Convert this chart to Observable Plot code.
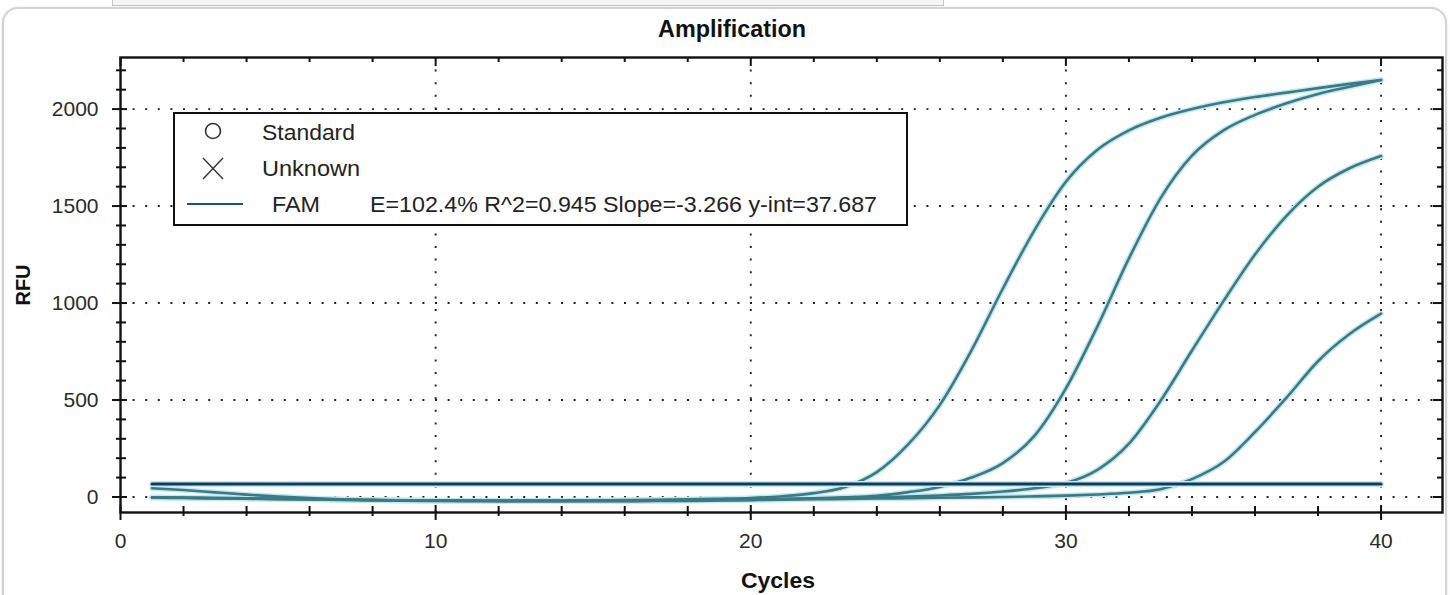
<!DOCTYPE html>
<html>
<head>
<meta charset="utf-8">
<script src="https://cdn.jsdelivr.net/npm/d3@7"></script>
<script src="https://cdn.jsdelivr.net/npm/@observablehq/plot@0.6"></script>
<style>
  body { margin: 0; background: #fff; font-family: "Liberation Sans", Arial, sans-serif; }
  #wrap { position: relative; width: 1450px; height: 595px; overflow: hidden; background: #fff; }
  #tab { position: absolute; left: 112px; top: -2px; width: 830px; height: 6px; border: 1px solid #c6c6c6; background: #f4f4f4; }
  #card { position: absolute; left: 2px; top: 7px; width: 1441px; height: 650px; border: 2px solid #d2d2d2; border-radius: 16px; box-shadow: 0 0 3px rgba(0,0,0,0.10); }
  #chart { position: absolute; left: 0; top: 0; }
  #overlay { position: absolute; left: 0; top: 0; pointer-events: none; }
  #legend { position: absolute; left: 173px; top: 112px; }
</style>
</head>
<body>
<div id="wrap">
  <div id="tab"></div>
  <div id="card"></div>
  <div id="chart"></div>
  <svg id="overlay" width="1450" height="595" font-family="Liberation Sans, Arial, sans-serif">
    <text x="732" y="37" text-anchor="middle" font-size="23" font-weight="bold" fill="#111" textLength="148" lengthAdjust="spacingAndGlyphs">Amplification</text>
    <text x="778" y="588" text-anchor="middle" font-size="22" font-weight="bold" fill="#111" textLength="74" lengthAdjust="spacingAndGlyphs">Cycles</text>
    <text transform="translate(30,285) rotate(-90)" text-anchor="middle" font-size="20" font-weight="bold" fill="#111">RFU</text>
  </svg>
  <svg id="legend" width="735" height="114" font-family="Liberation Sans, Arial, sans-serif">
    <rect x="1" y="1" width="733" height="112" fill="#fff" stroke="#111" stroke-width="2"></rect>
    <circle cx="40" cy="19" r="7.5" fill="none" stroke="#333" stroke-width="1.6"></circle>
    <text x="89" y="28" font-size="22" fill="#222" textLength="93" lengthAdjust="spacingAndGlyphs">Standard</text>
    <line x1="30" y1="46" x2="50" y2="67" stroke="#333" stroke-width="1.4"></line>
    <line x1="50" y1="46" x2="30" y2="67" stroke="#333" stroke-width="1.4"></line>
    <text x="89" y="64" font-size="22" fill="#222" textLength="98" lengthAdjust="spacingAndGlyphs">Unknown</text>
    <line x1="14" y1="92" x2="70" y2="92" stroke="#1f4f86" stroke-width="2.2"></line>
    <text x="99" y="100" font-size="22" fill="#222" textLength="48" lengthAdjust="spacingAndGlyphs">FAM</text>
    <text x="197" y="100" font-size="22" fill="#222" textLength="507" lengthAdjust="spacingAndGlyphs">E=102.4% R^2=0.945 Slope=-3.266 y-int=37.687</text>
  </svg>
</div>
<script>
// ---- data ----
const cycles = d3.range(1, 41);
const curve1 = [45, 36, 24, 12, 2, -6, -12, -16, -19, -20, -20, -20, -19, -18, -17, -16, -14, -12, -9, -5, 4, 20, 52, 128, 272, 475, 755, 1075, 1375, 1625, 1790, 1890, 1955, 2000, 2035, 2062, 2085, 2108, 2130, 2150];
const curve2 = [-3, -4, -6, -8, -10, -12, -14, -16, -18, -19, -20, -21, -22, -22, -22, -22, -21, -20, -18, -15, -11, -7, -2, 6, 25, 52, 100, 175, 315, 560, 880, 1230, 1540, 1760, 1890, 1970, 2030, 2078, 2115, 2150];
const curve3 = [-4, -5, -7, -9, -11, -13, -15, -17, -18, -19, -20, -20, -20, -20, -19, -18, -17, -16, -14, -12, -10, -8, -5, -2, 2, 8, 16, 28, 45, 72, 140, 275, 495, 755, 1010, 1250, 1450, 1600, 1695, 1758];
const curve4 = [-2, -3, -5, -7, -9, -11, -13, -15, -17, -18, -19, -20, -20, -20, -20, -20, -19, -18, -17, -16, -14, -12, -10, -8, -6, -4, -2, 0, 3, 7, 13, 22, 40, 92, 180, 335, 512, 700, 840, 945];
const thresholdRFU = 67;
const thresholdCycles = [1, 40];
const xMajorTicks = [0, 10, 20, 30, 40];
const xMinorTicks = d3.range(2, 42, 2).filter(d => d % 10 !== 0);
const yMajorTicks = [0, 500, 1000, 1500, 2000];
const yMinorTicks = d3.range(100, 2300, 100).filter(d => d % 500 !== 0);
const xDomain = [0, 41.95];
const yDomain = [-80, 2266];

// ---- build table ----
const series = [curve1, curve2, curve3, curve4];
const rows = [];
series.forEach((vals, s) => vals.forEach((v, i) => rows.push({series: "S" + (s + 1), cycle: cycles[i], rfu: v})));
const thr = thresholdCycles.map(c => ({cycle: c, rfu: thresholdRFU}));

const W = 1450, H = 595, mL = 120, mR = 8, mT = 57, mB = 83;
const fW = W - mL - mR, fH = H - mT - mB;
const ink = "#111";
const dotted = {stroke: "#222", strokeWidth: 1.9, strokeDasharray: "2 10.6"};

const chart = Plot.plot({
  width: W, height: H,
  marginLeft: mL, marginRight: mR, marginTop: mT, marginBottom: mB,
  x: {domain: xDomain},
  y: {domain: yDomain},
  style: {fontFamily: "Liberation Sans, Arial, sans-serif", fontSize: "21px", color: "#2a2a2a", background: "transparent", overflow: "visible"},
  marks: [
    Plot.ruleX(xMajorTicks.filter(d => d > 0), dotted),
    Plot.ruleY(yMajorTicks, dotted),
    Plot.line(rows, {x: "cycle", y: "rfu", z: "series", stroke: "#c4e8f0", strokeWidth: 5.5, curve: "monotone-x"}),
    Plot.line(rows, {x: "cycle", y: "rfu", z: "series", stroke: "#3a7a85", strokeWidth: 2.6, curve: "monotone-x"}),
    Plot.line(thr, {x: "cycle", y: "rfu", stroke: "#c4e8f0", strokeWidth: 6}),
    Plot.line(thr, {x: "cycle", y: "rfu", stroke: "#0f3b5c", strokeWidth: 3}),
    Plot.frame({stroke: ink, strokeWidth: 2.4}),
    Plot.ruleX(xMajorTicks, {stroke: ink, strokeWidth: 2, insetTop: fH - 7, insetBottom: -8}),
    Plot.ruleX(xMinorTicks, {stroke: ink, strokeWidth: 2, insetTop: fH - 6, insetBottom: -4}),
    Plot.ruleX(xMajorTicks, {stroke: ink, strokeWidth: 2, insetBottom: fH - 9}),
    Plot.ruleX(xMinorTicks, {stroke: ink, strokeWidth: 2, insetBottom: fH - 5}),
    Plot.ruleY(yMajorTicks, {stroke: ink, strokeWidth: 2, insetRight: fW - 7, insetLeft: -8}),
    Plot.ruleY(yMinorTicks, {stroke: ink, strokeWidth: 2, insetRight: fW - 6, insetLeft: -4}),
    Plot.ruleY(yMajorTicks, {stroke: ink, strokeWidth: 2, insetLeft: fW - 9}),
    Plot.ruleY(yMinorTicks, {stroke: ink, strokeWidth: 2, insetLeft: fW - 5}),
    Plot.axisX({ticks: xMajorTicks, tickSize: 0, tickPadding: 21, tickFormat: d3.format("d"), label: null}),
    Plot.axisY({ticks: yMajorTicks, tickSize: 0, tickPadding: 22, tickFormat: d3.format("d"), label: null})
  ]
});
document.getElementById("chart").appendChild(chart);
</script>
</body>
</html>
